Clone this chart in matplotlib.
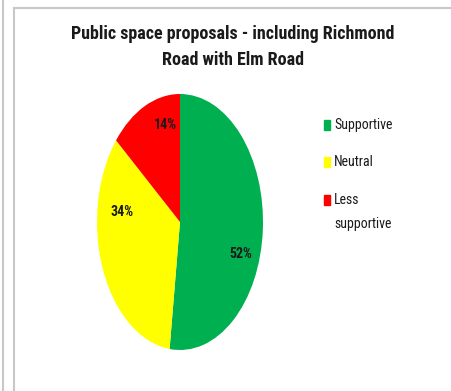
import matplotlib
matplotlib.use("Agg")
import matplotlib.pyplot as plt
from matplotlib.lines import Line2D
from matplotlib.patches import Rectangle

categories = ["Supportive", "Neutral", "Less\nsupportive"]
shares = [52, 34, 14]
colors = ["#00B050", "#FFFF00", "#FF0000"]
title = "Public space proposals - including Richmond\nRoad with Elm Road"

plt.rcParams["font.family"] = ["Roboto Condensed", "Liberation Sans", "DejaVu Sans"]

W, H = 452, 391
fig = plt.figure(figsize=(W / 100, H / 100), dpi=100)
fig.patch.set_facecolor("white")

def px(x, y):
    return x / W, 1 - y / H

# frame lines around the chart area
grey = "#c8c8c8"
fig.add_artist(Line2D([px(3, 0)[0]] * 2, [0, 1], color=grey, lw=1.5, transform=fig.transFigure))
fig.add_artist(Line2D([px(14, 0)[0]] * 2, [0, px(0, 8)[1]], color=grey, lw=1.5, transform=fig.transFigure))
fig.add_artist(Line2D([px(14, 0)[0], 1], [px(0, 8)[1]] * 2, color=grey, lw=1.5, transform=fig.transFigure))

fig.text(px(233, 0)[0], px(0, 47)[1], title, ha="center", va="center",
         fontsize=13, fontweight="bold", color="#1a1a1a", linespacing=1.55)

# elliptical pie
cx, cy, rx, ry = 180, 222, 83, 128
ax = fig.add_axes([(cx - rx) / W, 1 - (cy + ry) / H, 2 * rx / W, 2 * ry / H])
wedges, _ = ax.pie(shares, colors=colors, startangle=90, counterclock=False,
                   wedgeprops=dict(linewidth=0))
ax.set_aspect("auto")
ax.set_xlim(-1, 1)
ax.set_ylim(-1, 1)
ax.axis("off")

label_pos = [(0.73, -0.25), (-0.70, 0.08), (-0.17, 0.76)]
for v, (lx, ly) in zip(shares, label_pos):
    ax.text(lx, ly, f"{v}%", ha="center", va="center", fontsize=10,
            fontweight="bold", color="#1a1a1a")

# legend
ys = [125, 162, 200]
for name, col, y in zip(categories, colors, ys):
    x0, y0 = px(324, y + 5)
    fig.add_artist(Rectangle((x0, y0), 6 / W, 10 / H, color=col, transform=fig.transFigure))
    fig.text(px(334, 0)[0], px(0, y - 7)[1], name, ha="left", va="top",
             fontsize=10, color="#1a1a1a", linespacing=1.9)

fig.savefig("out.png", dpi=100, facecolor="white")
